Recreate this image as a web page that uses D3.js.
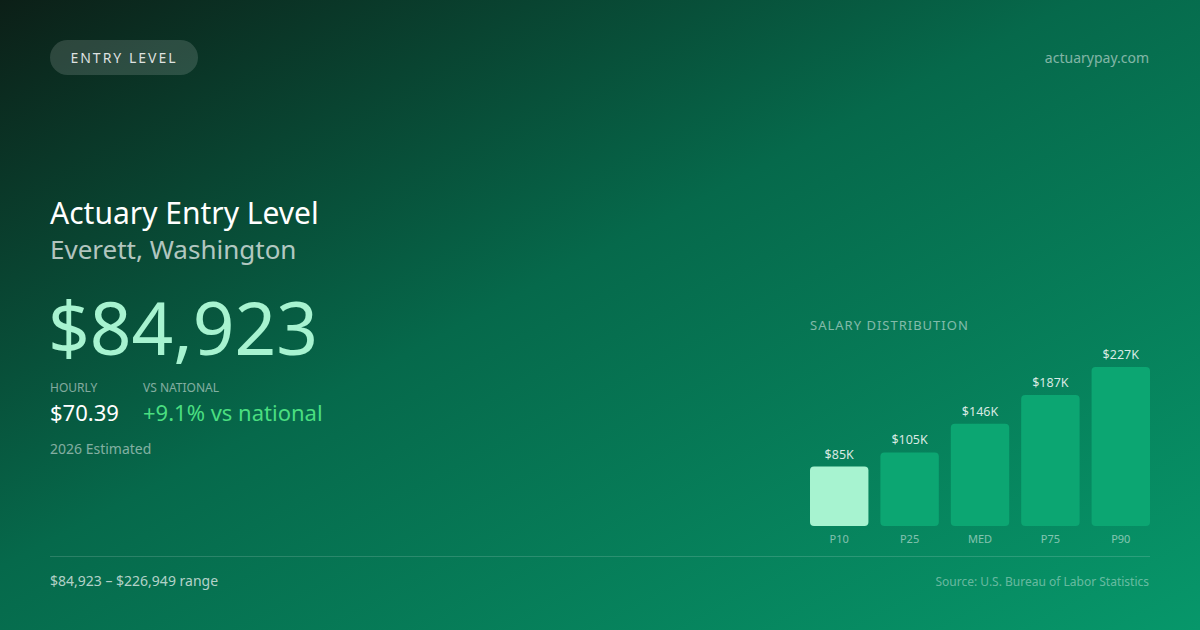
<!DOCTYPE html>
<html>
<head>
<meta charset="utf-8">
<script src="https://cdn.jsdelivr.net/npm/d3@7"></script>
<style>
  html, body { margin: 0; padding: 0; background: #0b2a1d; }
  svg { display: block; font-family: "Noto Sans", "Open Sans", sans-serif; }
</style>
</head>
<body>
<div id="card"></div>
<script>
// salary distribution data
var percentiles = ['P10', 'P25', 'MED', 'P75', 'P90'];
var salaries = [84923, 105000, 146000, 187000, 226949];
var salaryLabels = ['$85K', '$105K', '$146K', '$187K', '$227K'];

var W = 1200, H = 630;

var svg = d3.select('#card').append('svg')
    .attr('width', W)
    .attr('height', H);

// background gradient, dark top-left to emerald bottom-right
var defs = svg.append('defs');
var grad = defs.append('linearGradient')
    .attr('id', 'bg')
    .attr('x1', '0%').attr('y1', '0%')
    .attr('x2', '100%').attr('y2', '100%');
grad.append('stop').attr('offset', '0%').attr('stop-color', '#0c1f17');
grad.append('stop').attr('offset', '45%').attr('stop-color', '#06694b');
grad.append('stop').attr('offset', '100%').attr('stop-color', '#07976a');

svg.append('rect')
    .attr('width', W)
    .attr('height', H)
    .attr('fill', 'url(#bg)');

// header pill
svg.append('rect')
    .attr('x', 50).attr('y', 40)
    .attr('width', 148).attr('height', 35)
    .attr('rx', 17.5)
    .attr('fill', 'rgba(255,255,255,0.14)');
svg.append('text')
    .attr('x', 124).attr('y', 63)
    .attr('text-anchor', 'middle')
    .attr('font-size', 14)
    .attr('letter-spacing', 2)
    .attr('fill', 'rgba(255,255,255,0.85)')
    .text('ENTRY LEVEL');

svg.append('text')
    .attr('x', 1149).attr('y', 63)
    .attr('text-anchor', 'end')
    .attr('font-size', 14)
    .attr('fill', 'rgba(255,255,255,0.5)')
    .text('actuarypay.com');

// titles
svg.append('text')
    .attr('x', 50).attr('y', 224)
    .attr('font-size', 30)
    .attr('fill', '#ffffff')
    .text('Actuary Entry Level');
svg.append('text')
    .attr('x', 50).attr('y', 259)
    .attr('font-size', 26)
    .attr('fill', 'rgba(255,255,255,0.7)')
    .text('Everett, Washington');

svg.append('text')
    .attr('x', 48).attr('y', 355)
    .attr('font-size', 73)
    .attr('fill', '#a7f3d0')
    .text('$84,923');

// hourly + vs national
svg.append('text')
    .attr('x', 50).attr('y', 392)
    .attr('font-size', 12)
    .attr('fill', 'rgba(255,255,255,0.5)')
    .text('HOURLY');
svg.append('text')
    .attr('x', 143).attr('y', 392)
    .attr('font-size', 12)
    .attr('fill', 'rgba(255,255,255,0.5)')
    .text('VS NATIONAL');
svg.append('text')
    .attr('x', 50).attr('y', 421)
    .attr('font-size', 22)
    .attr('fill', '#ffffff')
    .text('$70.39');
svg.append('text')
    .attr('x', 143).attr('y', 421)
    .attr('font-size', 22)
    .attr('fill', '#4ade80')
    .text('+9.1% vs national');
svg.append('text')
    .attr('x', 50).attr('y', 454)
    .attr('font-size', 14)
    .attr('fill', 'rgba(255,255,255,0.5)')
    .text('2026 Estimated');

// salary distribution chart
svg.append('text')
    .attr('x', 810).attr('y', 330)
    .attr('font-size', 13)
    .attr('letter-spacing', 1)
    .attr('fill', 'rgba(255,255,255,0.5)')
    .text('SALARY DISTRIBUTION');

var baseY = 526;

var x = d3.scaleBand()
    .domain(percentiles)
    .range([810, 1150])
    .paddingInner(0.17)
    .paddingOuter(0);

var h = d3.scaleLinear()
    .domain([0, d3.max(salaries)])
    .range([0, 159]);

var bars = svg.append('g').selectAll('g')
    .data(percentiles)
    .enter().append('g');

bars.append('rect')
    .attr('x', function(d){ return x(d); })
    .attr('y', function(d, i){ return baseY - h(salaries[i]); })
    .attr('width', x.bandwidth())
    .attr('height', function(d, i){ return h(salaries[i]); })
    .attr('rx', 4)
    .attr('fill', function(d, i){ return i === 0 ? '#a7f3d0' : '#0ca672'; });

bars.append('text')
    .attr('x', function(d){ return x(d) + x.bandwidth() / 2; })
    .attr('y', function(d, i){ return baseY - h(salaries[i]) - 8; })
    .attr('text-anchor', 'middle')
    .attr('font-size', 12.5)
    .attr('fill', 'rgba(255,255,255,0.85)')
    .text(function(d, i){ return salaryLabels[i]; });

bars.append('text')
    .attr('x', function(d){ return x(d) + x.bandwidth() / 2; })
    .attr('y', 543)
    .attr('text-anchor', 'middle')
    .attr('font-size', 11)
    .attr('fill', 'rgba(255,255,255,0.5)')
    .text(function(d){ return d; });

// footer
svg.append('line')
    .attr('x1', 50).attr('x2', 1150)
    .attr('y1', 556.5).attr('y2', 556.5)
    .attr('stroke', 'rgba(255,255,255,0.15)')
    .attr('stroke-width', 1);

svg.append('text')
    .attr('x', 50).attr('y', 586)
    .attr('font-size', 14)
    .attr('fill', 'rgba(255,255,255,0.7)')
    .text('$84,923 \u2013 $226,949 range');

svg.append('text')
    .attr('x', 1149).attr('y', 586)
    .attr('text-anchor', 'end')
    .attr('font-size', 12)
    .attr('fill', 'rgba(255,255,255,0.4)')
    .text('Source: U.S. Bureau of Labor Statistics');
</script>
</body>
</html>
